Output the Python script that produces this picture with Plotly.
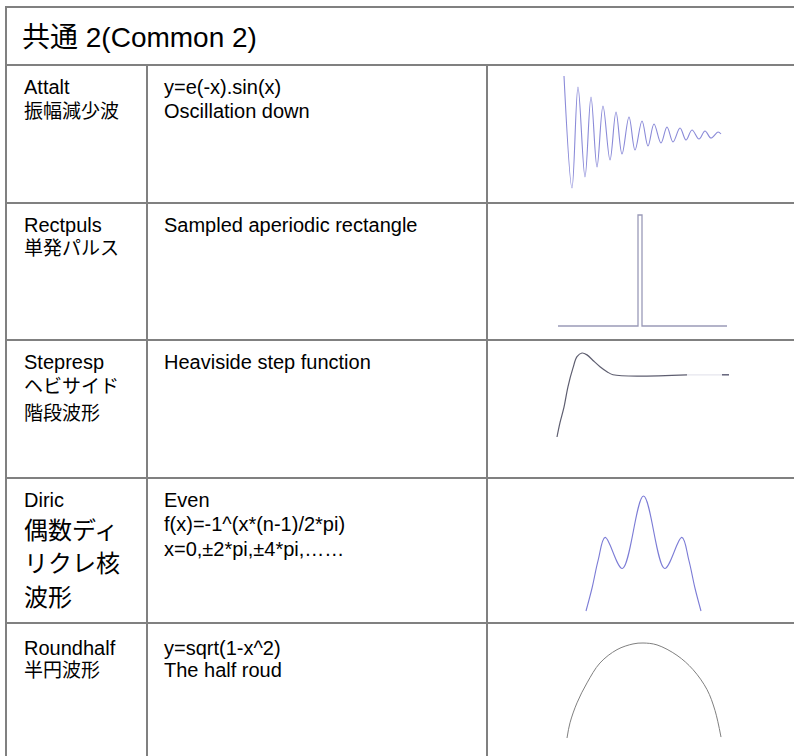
import plotly.graph_objects as go

# ---------------- data ----------------
title_text = "共通 2(Common 2)"
names = ["Attalt", "Rectpuls", "Stepresp", "Diric", "Roundhalf"]
jp_names = [["振幅減少波"], ["単発パルス"], ["ヘビサイド", "階段波形"],
            ["偶数ディ", "リクレ核", "波形"], ["半円波形"]]
descs = [["y=e(-x).sin(x)", "Oscillation down"],
         ["Sampled aperiodic rectangle"],
         ["Heaviside step function"],
         ["Even", "f(x)=-1^(x*(n-1)/2*pi)", "x=0,±2*pi,±4*pi,……"],
         ["y=sqrt(1-x^2)", "The half roud"]]

# Attalt: damped oscillation, extrema (sample, amplitude)
attalt_x = [0, 8, 14, 21, 27, 33, 39, 46, 52, 58, 65, 71, 78, 84, 90, 97,
            103, 109, 116, 122, 128, 135, 141, 147, 154, 157]
attalt_y = [58, -54, 47, -43, 37, -33, 28, -26, 22, -20, 17, -16, 13, -12,
            10, -9, 7, -8, 6, -6, 4, -5, 3, -4, 2, 0]

# Rectpuls: single rectangular pulse
rect_x = [0, 80, 80, 84, 84, 169]
rect_y = [0, 0, 1, 1, 0, 0]

# Stepresp: rise with overshoot, then settled value
step_x = [0, 3, 7, 11, 16, 20, 25, 30, 36, 43, 50, 56, 130]
step_y = [0, 0.23, 0.48, 0.81, 1.11, 1.29, 1.35, 1.32, 1.23, 1.13, 1.05, 1.0, 1.0]
step_tail_x = [130, 165]
step_tail_y = [1.0, 1.0]
step_end_x = [165, 172]
step_end_y = [1.0, 1.0]

# Diric: even Dirichlet kernel
diric_x = [-57, -51, -45, -38, -21, 0, 21, 38, 45, 51, 57]
diric_y = [0, 0.20, 0.44, 0.64, 0.37, 1.0, 0.37, 0.64, 0.44, 0.20, 0]

# Roundhalf: half circle
round_x = [-76, -73, -66, -56, -43, -26, -10, 0, 14, 34, 50, 64, 72, 78]
round_y = [0, 0.16, 0.37, 0.58, 0.79, 0.93, 0.99, 1.0, 0.98, 0.87, 0.72,
           0.51, 0.29, 0.01]

# ---------------- layout constants (pixels) ----------------
W, H = 794, 756
BORDER = "#808080"
LEFT, TOP = 6, 7
COL_X = [147, 487]
ROW_LINES = [65, 203, 340, 478, 623]
COL1_TX, COL2_TX = 22, 162
col1_line_y = [[87, 111], [225, 249], [362, 387, 413], [500, 530, 563, 597], [648, 670]]
col2_line_y = [[87, 111], [225], [362], [500, 524, 549], [648, 670]]
LATIN = "Liberation Sans, Arial, Noto Sans CJK JP"


def px(x):
    return x / W


def py(y):
    return 1 - y / H


fig = go.Figure()

# ---- table grid ----
shapes = []
line = dict(color=BORDER, width=2)
for y in [TOP] + ROW_LINES:
    shapes.append(dict(type="line", xref="paper", yref="paper",
                       x0=px(LEFT - 1), x1=px(W), y0=py(y), y1=py(y), line=line))
shapes.append(dict(type="line", xref="paper", yref="paper",
                   x0=px(LEFT), x1=px(LEFT), y0=py(TOP - 1), y1=py(H), line=line))
for x in COL_X:
    shapes.append(dict(type="line", xref="paper", yref="paper",
                       x0=px(x), x1=px(x), y0=py(ROW_LINES[0]), y1=py(H), line=line))

# ---- texts ----
ann = []
ann.append(dict(text=title_text, x=px(20), y=py(37), xref="paper", yref="paper",
                xanchor="left", yanchor="middle", showarrow=False,
                font=dict(family=LATIN, size=28, color="#000")))
for i in range(5):
    lines1 = [names[i]] + jp_names[i]
    for j, t in enumerate(lines1):
        size = 20
        if i == 3 and j > 0:
            size = 24
        elif j > 0:
            size = 19
        ann.append(dict(text=t, x=px(COL1_TX), y=py(col1_line_y[i][j]),
                        xref="paper", yref="paper", xanchor="left",
                        yanchor="middle", showarrow=False,
                        font=dict(family=LATIN, size=size, color="#000")))
    for j, t in enumerate(descs[i]):
        ann.append(dict(text=t, x=px(COL2_TX), y=py(col2_line_y[i][j]),
                        xref="paper", yref="paper", xanchor="left",
                        yanchor="middle", showarrow=False,
                        font=dict(family=LATIN, size=20, color="#000")))

# ---- waveform panels ----
# (data x-range, data y-range, pixel box of those extents: left, right, top, bottom)
panels = [
    ((0, 157), (-54, 58), (564, 721, 76, 188)),
    ((0, 169), (0, 1), (558, 727, 215, 326)),
    ((0, 172), (0, 1.35), (557, 729, 353, 437)),
    ((-57, 57), (0, 1), (586, 701, 496, 611)),
    ((-76, 78), (0, 1), (567, 721, 643, 738)),
]
PAD = 4
for k, ((xa, xb), (ya, yb), (l, r, t, b)) in enumerate(panels, start=1):
    sx = (r - l) / (xb - xa)
    sy = (b - t) / (yb - ya)
    xr = [xa - PAD / sx, xb + PAD / sx]
    yr = [ya - PAD / sy, yb + PAD / sy]
    suffix = "" if k == 1 else str(k)
    fig.layout["xaxis" + suffix] = dict(domain=[px(l - PAD), px(r + PAD)], range=xr,
                                        visible=False, fixedrange=True,
                                        anchor="y" + suffix)
    fig.layout["yaxis" + suffix] = dict(domain=[py(b + PAD), py(t - PAD)], range=yr,
                                        visible=False, fixedrange=True,
                                        anchor="x" + suffix)


def add(x, y, k, color, width=1.2, shape="linear", dash="solid"):
    suffix = "" if k == 1 else str(k)
    fig.add_trace(go.Scatter(x=x, y=y, mode="lines", xaxis="x" + suffix,
                             yaxis="y" + suffix, hoverinfo="skip",
                             line=dict(color=color, width=width, shape=shape,
                                       dash=dash)))


add(attalt_x, attalt_y, 1, "#8a8ad8", 1.1, "spline")
add(rect_x, rect_y, 2, "#9a9ab8", 1.3)
add(step_x, step_y, 3, "#5e5e70", 1.2, "spline")
add(step_tail_x, step_tail_y, 3, "#e6e6ee", 1.3)
add(step_end_x, step_end_y, 3, "#6a6a80", 1.6)
add(diric_x, diric_y, 4, "#7c7cd6", 1.1, "spline")
add(round_x, round_y, 5, "#808080", 1.0, "spline")

fig.update_layout(width=W, height=H, margin=dict(l=0, r=0, t=0, b=0),
                  paper_bgcolor="white", plot_bgcolor="rgba(0,0,0,0)",
                  showlegend=False, shapes=shapes, annotations=ann)

fig.write_html("out.html", config={"displayModeBar": False},
               post_script="document.body.style.margin='0';document.body.style.overflow='hidden';")
